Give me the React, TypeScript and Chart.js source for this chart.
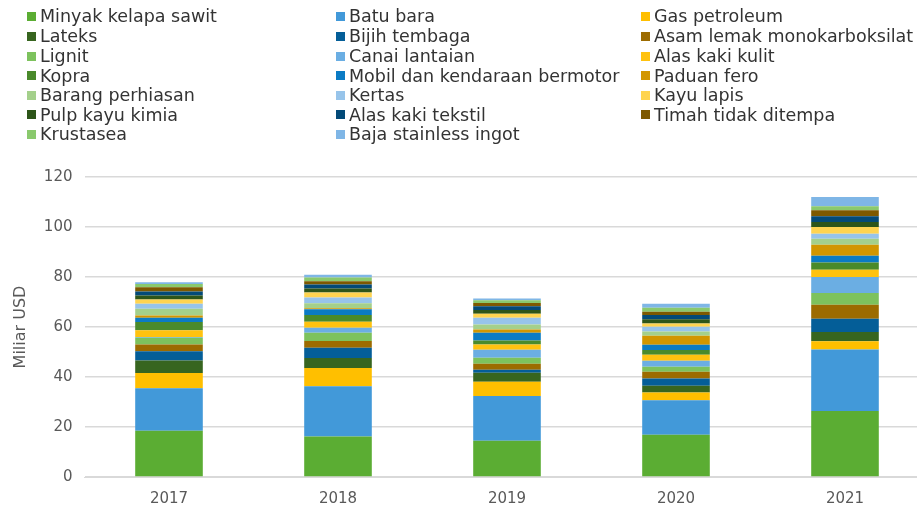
import React, { useEffect, useRef } from "react";
import { Chart, registerables } from "chart.js";

Chart.register(...registerables);

const categories = ["2017", "2018", "2019", "2020", "2021"];

const seriesNames = [
  "Minyak kelapa sawit", "Batu bara", "Gas petroleum",
  "Lateks", "Bijih tembaga", "Asam lemak monokarboksilat",
  "Lignit", "Canai lantaian", "Alas kaki kulit",
  "Kopra", "Mobil dan kendaraan bermotor", "Paduan fero",
  "Barang perhiasan", "Kertas", "Kayu lapis",
  "Pulp kayu kimia", "Alas kaki tekstil", "Timah tidak ditempa",
  "Krustasea", "Baja stainless ingot",
];

const seriesColors = [
  "#5BAD33", "#4299D9", "#FFBF00",
  "#37651F", "#045E98", "#9C6B00",
  "#7DC25D", "#6BAEE3", "#FFC20F",
  "#4A8A2B", "#0B7BC4", "#D29600",
  "#A4D08B", "#97C4EA", "#FFD450",
  "#2D5519", "#034A78", "#7E5900",
  "#8AC96D", "#7FB6E6",
];

const minyakKelapaSawit = [18.5, 16.2, 14.5, 16.9, 26.4];
const batuBara = [17.0, 20.1, 17.9, 13.8, 24.6];
const gasPetroleum = [6.1, 7.3, 5.7, 3.1, 3.3];
const lateks = [5.0, 4.0, 3.6, 2.7, 3.7];
const bijihTembaga = [3.7, 4.1, 1.2, 2.9, 5.3];
const asamLemak = [2.7, 2.7, 2.4, 2.7, 5.6];
const lignit = [2.7, 3.3, 2.4, 2.0, 4.7];
const canaiLantaian = [0.3, 2.0, 3.2, 2.4, 6.4];
const alasKakiKulit = [2.7, 2.4, 2.1, 2.4, 2.9];
const kopra = [3.3, 2.7, 1.6, 1.9, 2.9];
const mobil = [1.7, 2.3, 3.1, 2.1, 2.7];
const paduanFero = [0.9, 0.4, 1.3, 3.6, 4.4];
const barangPerhiasan = [2.7, 2.0, 2.0, 1.7, 2.4];
const kertas = [2.0, 2.3, 2.7, 1.9, 2.0];
const kayuLapis = [1.7, 2.0, 1.6, 1.3, 2.7];
const pulpKayuKimia = [1.6, 1.6, 1.5, 1.7, 2.0];
const alasKakiTekstil = [1.6, 1.6, 1.5, 1.7, 2.3];
const timah = [1.7, 1.3, 1.3, 1.3, 2.4];
const krustasea = [1.3, 1.5, 1.1, 1.6, 1.6];
const bajaStainless = [0.7, 1.1, 0.7, 1.6, 3.7];

const seriesValues = [
  minyakKelapaSawit, batuBara, gasPetroleum,
  lateks, bijihTembaga, asamLemak,
  lignit, canaiLantaian, alasKakiKulit,
  kopra, mobil, paduanFero,
  barangPerhiasan, kertas, kayuLapis,
  pulpKayuKimia, alasKakiTekstil, timah,
  krustasea, bajaStainless,
];

const yTicks = { min: 0, max: 120, step: 20 };
const yTitle = "Miliar USD";

const FONT = "'DejaVu Sans', sans-serif";
const legendCols = [27, 336, 641];
const legendRows = [16, 36, 56, 75.5, 95, 114.5, 134];

export default function App() {
  const ref = useRef<HTMLCanvasElement | null>(null);

  useEffect(() => {
    if (!ref.current) return;
    const chart = new Chart(ref.current, {
      type: "bar",
      data: {
        labels: categories,
        datasets: seriesNames.map((name, i) => ({
          label: name,
          data: seriesValues[i],
          backgroundColor: seriesColors[i],
          borderWidth: 0,
          categoryPercentage: 1,
          barPercentage: 0.4,
        })),
      },
      options: {
        animation: false,
        responsive: false,
        layout: { padding: { top: 177, right: 10.5, bottom: 4, left: 0 } },
        plugins: { legend: { display: false }, tooltip: { enabled: false } },
        scales: {
          x: {
            stacked: true,
            grid: { display: false, drawTicks: false },
            border: { display: true, color: "#D9D9D9", width: 1 },
            ticks: { color: "#595959", font: { family: FONT, size: 15 }, padding: 13 },
          },
          y: {
            stacked: true,
            min: yTicks.min,
            max: yTicks.max,
            afterFit: (s: any) => { s.width = 84.5; },
            grid: { color: "#D9D9D9", lineWidth: 1.5, drawTicks: false },
            border: { display: false },
            ticks: {
              stepSize: yTicks.step,
              color: "#595959",
              font: { family: FONT, size: 15 },
              padding: 12,
            },
            title: {
              display: true,
              text: yTitle,
              color: "#595959",
              font: { family: FONT, size: 16, weight: "normal" },
              padding: { top: 11, bottom: 0 },
            },
          },
        },
      },
    });
    return () => chart.destroy();
  }, []);

  return (
    <div style={{ position: "fixed", left: 0, top: 0, width: 917, height: 512, overflow: "hidden", background: "#fff" }}>
      <canvas ref={ref} width={940} height={525} style={{ position: "absolute", left: 0, top: 0 }} />
      {seriesNames.map((name, i) => {
        const col = i % 3;
        const row = Math.floor(i / 3);
        return (
          <div
            key={name}
            style={{
              position: "absolute",
              left: legendCols[col],
              top: legendRows[row] - 10,
              height: 20,
              lineHeight: "20px",
              display: "flex",
              alignItems: "center",
              whiteSpace: "nowrap",
              fontFamily: FONT,
              fontSize: 17.5,
              color: "#333",
            }}
          >
            <span style={{ display: "inline-block", width: 9, height: 9, background: seriesColors[i], marginRight: 4 }} />
            <span>{name}</span>
          </div>
        );
      })}
    </div>
  );
}
